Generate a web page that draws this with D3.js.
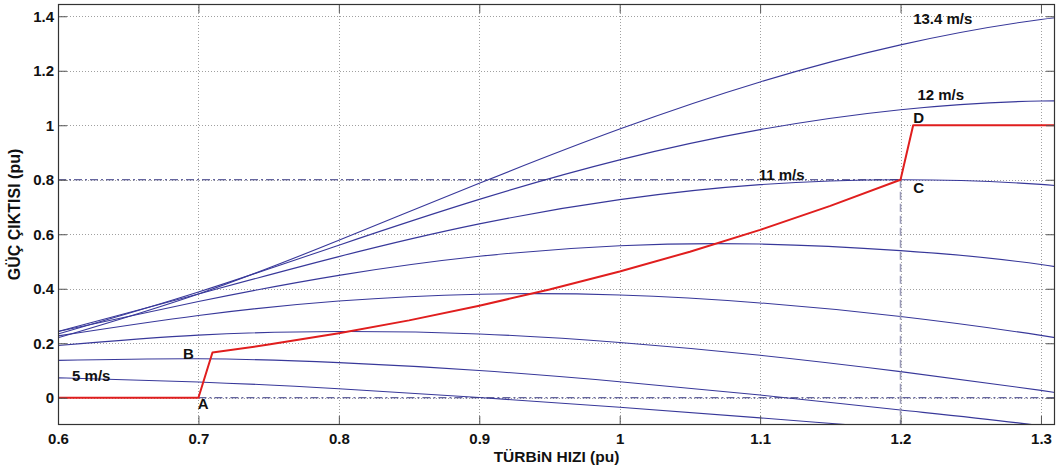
<!DOCTYPE html>
<html>
<head>
<meta charset="utf-8">
<script src="https://cdn.jsdelivr.net/npm/d3@7"></script>
<style>
body { margin: 0; background: #fff; }
text { font-family: Arial, "Liberation Sans", sans-serif; font-weight: bold; fill: #111; }
</style>
</head>
<body>
<svg id="chart"></svg>
<script>
// turbine speed samples (pu) where the curves were read
var speedX = [0.6, 0.7, 0.8, 0.9, 1.0, 1.1, 1.2, 1.3, 1.4];

// power output (pu) for each wind speed
var windSpeeds = [5, 6.2, 7.4, 8.6, 9.8, 11, 12.2, 13.4];
var power5   = [0.073, 0.058, 0.033, 0.001, -0.035, -0.074, -0.114, -0.153, -0.192];
var power6   = [0.137, 0.143, 0.129, 0.100, 0.059, 0.010, -0.045, -0.103, -0.184];
var power7   = [0.192, 0.230, 0.243, 0.234, 0.203, 0.156, 0.096, 0.027, -0.050];
var power8   = [0.227, 0.302, 0.355, 0.380, 0.377, 0.348, 0.298, 0.229, 0.147];
var power9   = [0.243, 0.353, 0.449, 0.519, 0.558, 0.564, 0.540, 0.489, 0.398];
var power11  = [0.243, 0.381, 0.518, 0.638, 0.727, 0.782, 0.800, 0.783, 0.734];
var power12  = [0.234, 0.388, 0.560, 0.728, 0.873, 0.984, 1.057, 1.089, 1.082];
var power13  = [0.220, 0.381, 0.578, 0.787, 0.986, 1.159, 1.295, 1.388, 1.437];
var powerSeries = [power5, power6, power7, power8, power9, power11, power12, power13];

// operating characteristic A-B-C-D (red)
var opX = [0.6, 0.7, 0.71, 0.75, 0.8, 0.85, 0.9, 0.95, 1.0, 1.05, 1.1, 1.15, 1.2, 1.209, 1.31];
var opY = [0, 0, 0.166, 0.195, 0.237, 0.284, 0.338, 0.397, 0.463, 0.536, 0.616, 0.704, 0.8, 1.0, 1.0];

// tick values
var xTicks = [0.6, 0.7, 0.8, 0.9, 1.0, 1.1, 1.2, 1.3];
var yTicks = [0, 0.2, 0.4, 0.6, 0.8, 1.0, 1.2, 1.4];

// text labels (anchored in data units)
var labelText = ["13.4 m/s", "12 m/s", "11 m/s", "5 m/s", "A", "B", "C", "D"];
var labelX    = [1.209, 1.212, 1.099, 0.61, 0.6995, 0.689, 1.209, 1.209];
var labelY    = [1.372, 1.093, 0.799, 0.062, -0.041, 0.142, 0.751, 1.008];

var width = 1061, height = 470;
var margin = {top: 4, right: 6, bottom: 45, left: 58};

var svg = d3.select("#chart")
    .attr("width", width)
    .attr("height", height);

var x = d3.scaleLinear().domain([0.6, 1.31]).range([margin.left, width - margin.right]);
var y = d3.scaleLinear().domain([-0.1, 1.445]).range([height - margin.bottom, margin.top]);

var x0 = x.range()[0], x1 = x.range()[1];
var y0 = y.range()[0], y1 = y.range()[1];

svg.append("defs").append("clipPath").attr("id", "plotclip")
    .append("rect")
    .attr("x", x0).attr("y", y1)
    .attr("width", x1 - x0).attr("height", y0 - y1);

// grid (dotted)
var grid = svg.append("g").attr("stroke", "#a0a0a0").attr("stroke-width", 1).attr("stroke-dasharray", "1,2");
grid.selectAll(".gx").data(xTicks.slice(1)).enter().append("line")
    .attr("x1", d => Math.round(x(d)) + 0.5).attr("x2", d => Math.round(x(d)) + 0.5)
    .attr("y1", y0).attr("y2", y1);
grid.selectAll(".gy").data(yTicks).enter().append("line")
    .attr("y1", d => Math.round(y(d)) + 0.5).attr("y2", d => Math.round(y(d)) + 0.5)
    .attr("x1", x0).attr("x2", x1);

var plot = svg.append("g").attr("clip-path", "url(#plotclip)");

// wind speed power curves
var curveLine = d3.line()
    .x(function(d, i) { return x(speedX[i]); })
    .y(function(d) { return y(d); })
    .curve(d3.curveNatural);

plot.selectAll(".wind")
    .data(powerSeries)
    .enter().append("path")
    .attr("class", "wind")
    .attr("d", curveLine)
    .attr("fill", "none")
    .attr("stroke", "#38389a")
    .attr("stroke-width", 1.1);

// reference lines
plot.append("line")
    .attr("x1", x(0.6)).attr("x2", x(1.2))
    .attr("y1", y(0.8)).attr("y2", y(0.8))
    .attr("stroke", "#33337f").attr("stroke-width", 1.2)
    .attr("stroke-dasharray", "8,3,2,3");
plot.append("line")
    .attr("x1", x(0.7)).attr("x2", x(1.31))
    .attr("y1", y(0)).attr("y2", y(0))
    .attr("stroke", "#33337f").attr("stroke-width", 1.2)
    .attr("stroke-dasharray", "8,3,2,3");
plot.append("line")
    .attr("x1", x(1.2)).attr("x2", x(1.2))
    .attr("y1", y(0.8)).attr("y2", y(-0.1))
    .attr("stroke", "#9a9ab8").attr("stroke-width", 1.6)
    .attr("stroke-dasharray", "8,4");

// operating curve
var opLine = d3.line()
    .x(function(d) { return x(d); })
    .y(function(d, i) { return y(opY[i]); });

plot.append("path")
    .attr("d", opLine(opX))
    .attr("fill", "none")
    .attr("stroke", "#e01e1e")
    .attr("stroke-width", 2)
    .attr("stroke-linejoin", "round");

// labels
svg.selectAll(".lbl")
    .data(labelText)
    .enter().append("text")
    .attr("class", "lbl")
    .attr("x", function(d, i) { return x(labelX[i]); })
    .attr("y", function(d, i) { return y(labelY[i]); })
    .style("font-size", "15px")
    .text(d => d);

// axes: ticks pointing inward, on all four sides
var fmt = d3.format("~g");
var axB = svg.append("g").attr("transform", "translate(0," + y0 + ")")
    .call(d3.axisBottom(x).tickValues(xTicks).tickFormat(fmt).tickSizeInner(-9).tickSizeOuter(0).tickPadding(8));
var axT = svg.append("g").attr("transform", "translate(0," + y1 + ")")
    .call(d3.axisTop(x).tickValues(xTicks).tickFormat("").tickSizeInner(-9).tickSizeOuter(0));
var axL = svg.append("g").attr("transform", "translate(" + x0 + ",0)")
    .call(d3.axisLeft(y).tickValues(yTicks).tickFormat(fmt).tickSizeInner(-9).tickSizeOuter(0).tickPadding(4));
var axR = svg.append("g").attr("transform", "translate(" + x1 + ",0)")
    .call(d3.axisRight(y).tickValues(yTicks).tickFormat("").tickSizeInner(-9).tickSizeOuter(0));

[axB, axT, axL, axR].forEach(function(a) {
    a.select(".domain").remove();
    a.selectAll(".tick line").attr("stroke", "#555");
    a.selectAll("text")
        .style("font-size", "15px")
        .style("font-family", "Arial, 'Liberation Sans', sans-serif")
        .style("font-weight", "bold")
        .attr("fill", "#111");
});

// box
svg.append("rect")
    .attr("x", x0 + 0.5).attr("y", y1 + 0.5)
    .attr("width", x1 - x0 - 1).attr("height", y0 - y1 - 1)
    .attr("fill", "none")
    .attr("stroke", "#333")
    .attr("stroke-width", 1.2);

// axis titles
svg.append("text")
    .attr("x", (x0 + x1) / 2)
    .attr("y", 462)
    .attr("text-anchor", "middle")
    .style("font-size", "15.5px")
    .text("TÜRBiN HIZI (pu)");

svg.append("text")
    .attr("transform", "translate(20," + ((y0 + y1) / 2) + ") rotate(-90)")
    .attr("text-anchor", "middle")
    .style("font-size", "16px")
    .text("GÜÇ ÇIKTISI (pu)");
</script>
</body>
</html>
